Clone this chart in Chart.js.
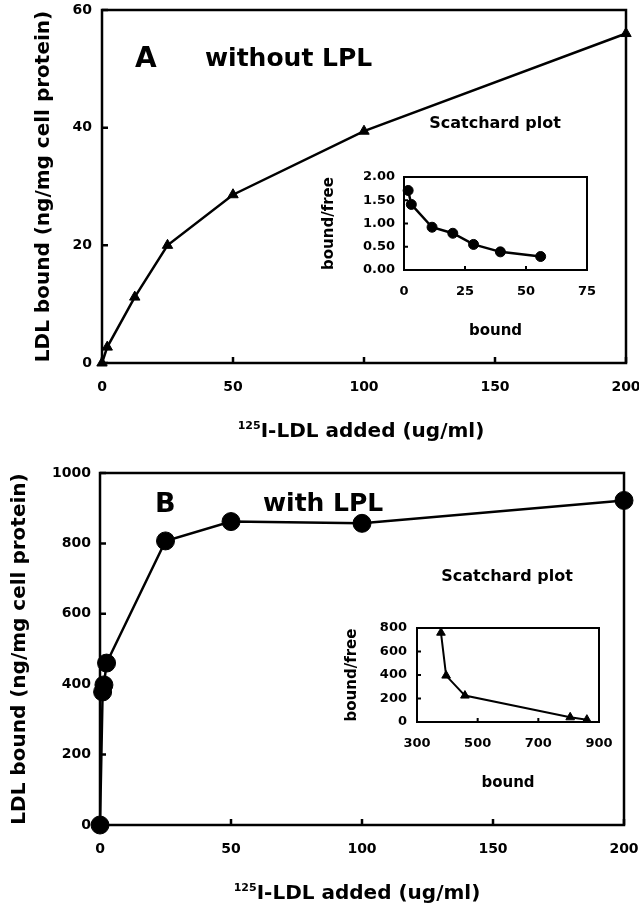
<!DOCTYPE html>
<html>
<head>
<meta charset="utf-8">
<script src="https://cdn.jsdelivr.net/npm/chart.js@4"></script>
<style>
  body { margin: 0; background: #fff; }
  #wrap { position: relative; width: 639px; height: 906px; overflow: hidden; font-family: "DejaVu Sans", sans-serif; font-weight: bold; color: #000; }
  canvas { position: absolute; }
  .lbl { position: absolute; white-space: nowrap; line-height: 1; transform: translateY(-50%); }
  .mid { transform: translate(-50%, -50%); }
  .sup { font-size: 11px; position: relative; top: -8px; }
</style>
</head>
<body>
<div id="wrap">
  <canvas id="mainA" width="639" height="450" style="left:0;top:0"></canvas>
  <canvas id="mainB" width="639" height="456" style="left:0;top:450px"></canvas>
  <canvas id="insetA" width="290" height="175" style="left:315px;top:170px"></canvas>
  <canvas id="insetB" width="295" height="185" style="left:330px;top:615px"></canvas>

  <div class="lbl" style="left:135px;top:58px;font-size:28px">A</div>
  <div class="lbl" style="left:205px;top:57px;font-size:25px">without LPL</div>
  <div class="lbl mid" style="left:495px;top:123px;font-size:16px">Scatchard plot</div>
  <div class="lbl mid" style="left:361px;top:430px;font-size:20px"><span class="sup">125</span>I-LDL added (ug/ml)</div>

  <div class="lbl" style="left:155px;top:502px;font-size:27px">B</div>
  <div class="lbl" style="left:263px;top:502px;font-size:25px">with LPL</div>
  <div class="lbl mid" style="left:507px;top:576px;font-size:16px">Scatchard plot</div>
  <div class="lbl mid" style="left:357px;top:892px;font-size:20px"><span class="sup">125</span>I-LDL added (ug/ml)</div>
</div>
<script>
// panel A: without LPL
const addedA = [0, 2, 12.5, 25, 50, 100, 200];
const boundA = [0, 2.7, 11.2, 20, 28.6, 39.4, 56];
// scatchard A
const scatBoundA = [1.7, 3, 11.5, 20, 28.5, 39.5, 56];
const scatRatioA = [1.71, 1.41, 0.92, 0.79, 0.55, 0.39, 0.29];

// panel B: with LPL
const addedB = [0, 1, 1.5, 2.5, 25, 50, 100, 200];
const boundB = [0, 378, 398, 460, 807, 862, 857, 922];
// scatchard B
const scatBoundB = [379, 396, 458, 805, 860];
const scatRatioB = [760, 395, 225, 40, 20];

const FONT = '"DejaVu Sans", sans-serif';

// box round the plot area + ticks pointing inwards
const boxTicks = {
  id: 'boxTicks',
  beforeDatasetsDraw(chart, args, opts) {
    const { ctx, chartArea: a, scales: { x, y } } = chart;
    ctx.save();
    ctx.strokeStyle = '#000';
    ctx.lineWidth = opts.width;
    ctx.strokeRect(a.left, a.top, a.right - a.left, a.bottom - a.top);
    ctx.beginPath();
    x.ticks.forEach(t => {
      const px = x.getPixelForValue(t.value);
      ctx.moveTo(px, a.bottom);
      ctx.lineTo(px, a.bottom - opts.len);
    });
    y.ticks.forEach(t => {
      const py = y.getPixelForValue(t.value);
      ctx.moveTo(a.left, py);
      ctx.lineTo(a.left + opts.len, py);
    });
    ctx.stroke();
    ctx.restore();
  }
};

function pts(xs, ys) {
  return xs.map((v, i) => ({ x: v, y: ys[i] }));
}

function makeChart(id, cfg) {
  return new Chart(document.getElementById(id), {
    type: 'line',
    data: {
      datasets: [{
        data: pts(cfg.xs, cfg.ys),
        borderColor: '#000',
        borderWidth: cfg.lineW,
        pointStyle: cfg.marker,
        pointRadius: cfg.r,
        pointBackgroundColor: '#000',
        pointBorderColor: '#000',
        pointBorderWidth: 1,
        tension: 0,
        clip: false
      }]
    },
    options: {
      responsive: false,
      animation: false,
      events: [],
      layout: { padding: cfg.pad },
      plugins: {
        legend: { display: false },
        tooltip: { enabled: false },
        boxTicks: { width: cfg.boxW, len: cfg.tickLen }
      },
      scales: {
        x: {
          type: 'linear',
          min: cfg.xMin, max: cfg.xMax,
          border: { display: false },
          grid: { display: false, drawTicks: false },
          ticks: { stepSize: cfg.xStep, padding: cfg.xPad, color: '#000', maxRotation: 0,
                   font: { family: FONT, weight: 'bold', size: cfg.tickSize } },
          title: cfg.xTitle ? { display: true, text: cfg.xTitle, color: '#000',
                   padding: { top: 0, bottom: cfg.xTitlePad },
                   font: { family: FONT, weight: 'bold', size: cfg.titleSize } } : { display: false },
          afterFit: s => { s.height = cfg.xH; s.paddingLeft = 0; s.paddingRight = 0; }
        },
        y: {
          type: 'linear',
          min: cfg.yMin, max: cfg.yMax,
          border: { display: false },
          grid: { display: false, drawTicks: false },
          ticks: { stepSize: cfg.yStep, padding: cfg.yPad, color: '#000',
                   callback: cfg.yFmt || (v => v),
                   font: { family: FONT, weight: 'bold', size: cfg.tickSize } },
          title: { display: true, text: cfg.yTitle, color: '#000',
                   padding: { top: cfg.yTitlePad, bottom: 0 },
                   font: { family: FONT, weight: 'bold', size: cfg.titleSize } },
          afterFit: s => { s.width = cfg.yW; s.paddingTop = 0; s.paddingBottom = 0; }
        }
      }
    },
    plugins: [boxTicks]
  });
}

makeChart('mainA', {
  xs: addedA, ys: boundA, marker: 'triangle', r: 6, lineW: 2.5,
  pad: { top: 10, right: 13, left: 0, bottom: 0 },
  xMin: 0, xMax: 200, xStep: 50, xPad: 16, xH: 87,
  yMin: 0, yMax: 60, yStep: 20, yPad: 10, yW: 102,
  yTitle: 'LDL bound (ng/mg cell protein)', yTitlePad: 32,
  tickSize: 14, titleSize: 20, boxW: 2.5, tickLen: 6
});

makeChart('mainB', {
  xs: addedB, ys: boundB, marker: 'circle', r: 9, lineW: 2.5,
  pad: { top: 23, right: 15, left: 0, bottom: 0 },
  xMin: 0, xMax: 200, xStep: 50, xPad: 16, xH: 81,
  yMin: 0, yMax: 1000, yStep: 200, yPad: 9, yW: 100,
  yTitle: 'LDL bound (ng/mg cell protein)', yTitlePad: 8,
  tickSize: 14, titleSize: 20, boxW: 2.5, tickLen: 6
});

makeChart('insetA', {
  xs: scatBoundA, ys: scatRatioA, marker: 'circle', r: 5, lineW: 2.5,
  pad: { top: 7, right: 18, left: 0, bottom: 0 },
  xMin: 0, xMax: 75, xStep: 25, xPad: 14, xH: 75, xTitle: 'bound', xTitlePad: 5,
  yMin: 0, yMax: 2, yStep: 0.5, yPad: 9, yW: 89, yFmt: v => v.toFixed(2),
  yTitle: 'bound/free', yTitlePad: 5,
  tickSize: 13, titleSize: 15, boxW: 2, tickLen: 4
});

makeChart('insetB', {
  xs: scatBoundB, ys: scatRatioB, marker: 'triangle', r: 5, lineW: 2,
  pad: { top: 13, right: 26, left: 0, bottom: 0 },
  xMin: 300, xMax: 900, xStep: 200, xPad: 14, xH: 78, xTitle: 'bound', xTitlePad: 8,
  yMin: 0, yMax: 800, yStep: 200, yPad: 10, yW: 87,
  yTitle: 'bound/free', yTitlePad: 13,
  tickSize: 13, titleSize: 15, boxW: 2, tickLen: 4
});
</script>
</body>
</html>
